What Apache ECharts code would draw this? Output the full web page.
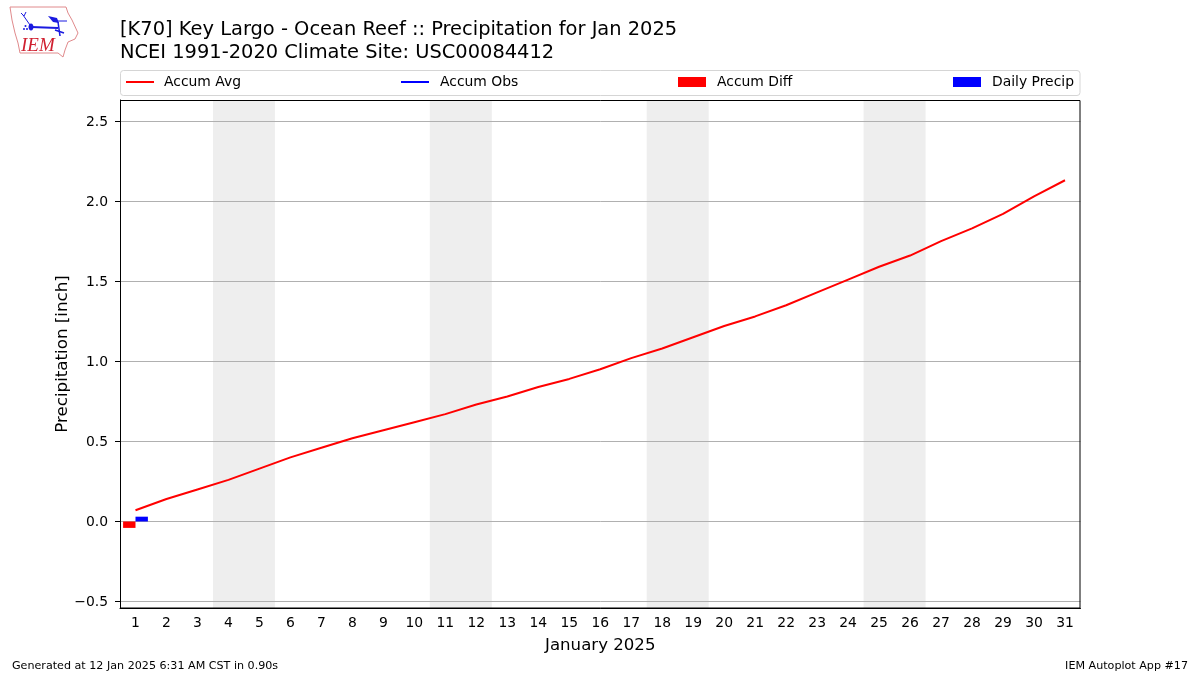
<!DOCTYPE html>
<html><head><meta charset="utf-8">
<style>html,body{margin:0;padding:0;background:#fff}#c{width:1200px;height:675px}</style>
<script src="https://cdn.jsdelivr.net/npm/echarts@6/dist/echarts.min.js"></script>
</head><body><div id="c"></div>
<script>
const days = ['1','2','3','4','5','6','7','8','9','10','11','12','13','14','15','16','17','18','19','20','21','22','23','24','25','26','27','28','29','30','31'];
const accumAvg = [0.07,0.14,0.20,0.26,0.33,0.40,0.46,0.52,0.57,0.62,0.67,0.73,0.78,0.84,0.89,0.95,1.02,1.08,1.15,1.22,1.28,1.35,1.43,1.51,1.59,1.66,1.75,1.83,1.92,2.03,2.13];
const accumObs = [0.03];
const accumDiff = [-0.04];
const dailyPrecip = [0.03];
const weekendBands = [[3.5,5.5],[10.5,12.5],[17.5,19.5],[24.5,26.5]];
const yTicks = [-0.5,0,0.5,1,1.5,2,2.5];
const titleLines = '[K70] Key Largo - Ocean Reef :: Precipitation for Jan 2025\nNCEI 1991-2020 Climate Site: USC00084412';
const F = '"DejaVu Sans"';
const chart = echarts.init(document.getElementById('c'), null, {renderer:'canvas'});
function leg(name,left,icon,w,h,gap){return {data:[{name,icon}],left,top:75,itemWidth:w,itemHeight:h,padding:0,
  textStyle:{fontFamily:F,fontSize:13.9,color:'#000',padding:[0,0,0,gap]},selectedMode:false,z:10};}
const logoBlue='#1a1ae0', logoRed='#e08a8c';
chart.setOption({
  animation:false,backgroundColor:'#fff',
  title:[
    {text:titleLines,left:120,top:19,padding:0,textStyle:{fontFamily:F,fontSize:19.43,fontWeight:'normal',color:'#000',lineHeight:22.5}},
    {text:'Generated at 12 Jan 2025 6:31 AM CST in 0.90s',left:12,top:661,padding:0,textStyle:{fontFamily:F,fontSize:11.13,fontWeight:'normal',color:'#000'}},
    {text:'IEM Autoplot App #17',right:12,top:661,padding:0,textStyle:{fontFamily:F,fontSize:11.13,fontWeight:'normal',color:'#000'}}
  ],
  legend:[leg('Accum Avg',126,'path://M0 0H28V2H0Z',28,2,5),leg('Accum Obs',401,'path://M0 0H28V2H0Z',28,2,6),leg('Accum Diff',678,'rect',28,10,6),leg('Daily Precip',953,'rect',28,10,6)],
  grid:{left:120,top:100,width:960.5,height:508,show:false},
  xAxis:[
    {type:'category',data:days,name:'January 2025',nameLocation:'middle',nameGap:29,nameTextStyle:{fontFamily:F,fontSize:16.6,color:'#000'},
     axisLine:{onZero:false,lineStyle:{color:'#000'}},axisTick:{alignWithLabel:true,length:5,lineStyle:{color:'#000'}},
     axisLabel:{fontFamily:F,fontSize:13.9,color:'#000',margin:8,interval:0},splitLine:{show:false}},
    {type:'value',min:0.5,max:31.5,show:false,position:'top'}
  ],
  yAxis:{type:'value',min:-0.54,max:2.631,name:'Precipitation [inch]',nameLocation:'middle',nameGap:49,nameMoveOverlap:false,z:3,
    nameTextStyle:{fontFamily:F,fontSize:16.7,color:'#000'},
    axisLine:{show:true,lineStyle:{color:'#000'}},
    axisTick:{show:true,length:5,lineStyle:{color:'#000'},customValues:yTicks},
    axisLabel:{fontFamily:F,fontSize:13.9,color:'#000',margin:11,padding:[0,1,0,0],verticalAlign:'top',lineHeight:2,customValues:yTicks,formatter:v=>(v<0?'\u2212':'')+Math.abs(v).toFixed(1)},
    splitLine:{show:true,lineStyle:{color:'#b0b0b0',width:1}}},
  series:[
    {name:'Weekend',type:'line',xAxisIndex:1,data:[],silent:true,z:0,
     markArea:{silent:true,itemStyle:{color:'#eeeeee'},data:weekendBands.map(b=>[{xAxis:b[0]},{xAxis:b[1]}])}},
    {name:'Accum Avg',type:'line',data:accumAvg,symbol:'none',lineStyle:{color:'#ff0000',width:2},itemStyle:{color:'#ff0000'},z:5},
    {name:'Accum Obs',type:'line',data:accumObs,symbol:'none',lineStyle:{color:'#0000ff',width:2},itemStyle:{color:'#0000ff'},z:5},
    {name:'Accum Diff',type:'bar',data:accumDiff,barWidth:12.4,barGap:0,itemStyle:{color:'#ff0000'},z:4},
    {name:'Daily Precip',type:'bar',data:dailyPrecip,barWidth:12.4,barGap:0,itemStyle:{color:'#0000ff'},z:4}
  ],
  graphic:[
    {type:'rect',silent:true,shape:{x:120.5,y:100.5,width:959.5,height:507.5},style:{fill:'none',stroke:'#000',lineWidth:1},z:50},
    {type:'rect',silent:true,shape:{x:120.5,y:70.5,width:959.5,height:25,r:3},style:{fill:'#fff',stroke:'#d5d5d5',lineWidth:1},z:1},
    {type:'polygon',silent:true,shape:{points:[[10,7],[66,7],[68,13],[72,20],[78,33],[75,39],[68,42],[65,50],[63,57],[58,53],[20,53],[18,43],[15,33],[12,20]]},style:{fill:'#fff',stroke:logoRed,lineWidth:1},z:1},
    {type:'text',silent:true,style:{x:21,y:36,text:'IEM',fontFamily:'"Liberation Serif"',fontStyle:'italic',fontSize:19,fill:'#d02030'},z:2},
    {type:'line',silent:true,shape:{x1:31,y1:27,x2:58,y2:28},style:{stroke:logoBlue,lineWidth:2},z:2},
    {type:'ellipse',silent:true,shape:{cx:31,cy:27,rx:2.5,ry:3.5},style:{fill:logoBlue},z:2},
    {type:'polygon',silent:true,shape:{points:[[48,16],[57,18],[59,23],[53,22]]},style:{fill:logoBlue},z:2},
    {type:'line',silent:true,shape:{x1:55,y1:21,x2:67,y2:21},style:{stroke:logoBlue,lineWidth:1},z:2},
    {type:'line',silent:true,shape:{x1:58,y1:22,x2:60,y2:36},style:{stroke:logoBlue,lineWidth:1.5},z:2},
    {type:'line',silent:true,shape:{x1:55,y1:30,x2:64,y2:33},style:{stroke:logoBlue,lineWidth:1.5},z:2},
    {type:'line',silent:true,shape:{x1:23,y1:15,x2:30,y2:25},style:{stroke:logoBlue,lineWidth:1},z:2},
    {type:'polyline',silent:true,shape:{points:[[21,13],[24,16],[26,12]]},style:{stroke:logoBlue,lineWidth:1,fill:'none'},z:2},
    {type:'circle',silent:true,shape:{cx:24,cy:29,r:1},style:{fill:logoBlue},z:2},
    {type:'circle',silent:true,shape:{cx:27,cy:29,r:1},style:{fill:logoBlue},z:2},
    {type:'circle',silent:true,shape:{cx:25.5,cy:26,r:1},style:{fill:logoBlue},z:2}
  ]
});
</script></body></html>
